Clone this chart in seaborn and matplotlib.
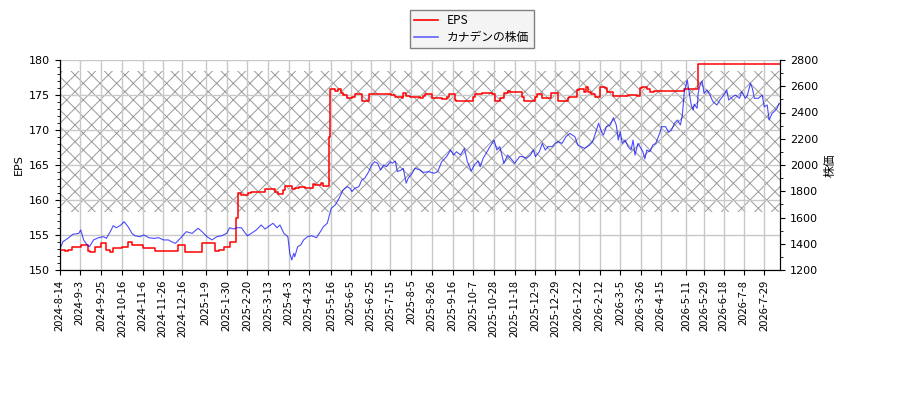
import pandas as pd
import numpy as np
import matplotlib
matplotlib.use('Agg')
import matplotlib.pyplot as plt
import seaborn as sns
from matplotlib.lines import Line2D
from matplotlib.ticker import MultipleLocator

start_date = pd.to_datetime('2024-08-14')
end_day = 730

# EPS steps: day offset from start_date, value from that day on
eps_day = [0, 5, 8, 12, 21, 28, 30, 35, 42, 47, 51, 54, 63, 69, 73, 84, 96, 120, 127, 144,
           157, 161, 166, 172, 178, 180, 184, 191, 194, 199, 208, 218, 221, 226, 228, 235,
           238, 242, 248, 257, 259, 265, 267, 273, 274, 279, 282, 285, 287, 291, 296, 299,
           306, 313, 336, 340, 347, 348, 351, 355, 365, 368, 370, 377, 380, 387, 392, 394,
           400, 402, 419, 421, 428, 438, 441, 446, 450, 454, 456, 468, 470, 482, 484, 489,
           492, 498, 505, 515, 516, 524, 526, 531, 533, 535, 538, 542, 547, 548, 553, 555,
           561, 576, 585, 588, 590, 595, 598, 602, 633, 647, 730]
eps_value = [152.86, 152.7, 152.86, 153.24, 153.57, 152.7, 152.52, 153.33, 153.81, 152.86,
             152.62, 153.1, 153.24, 153.95, 153.57, 153.19, 152.76, 153.57, 152.52, 153.81,
             152.7, 152.86, 153.33, 153.95, 157.4, 160.95, 160.71, 160.95, 161.1, 161.19,
             161.52, 161.19, 160.81, 161.43, 162.0, 161.57, 161.67, 161.81, 161.67, 162.24,
             162.14, 162.38, 162.0, 169.0, 175.81, 175.57, 175.81, 175.24, 175.0, 174.52,
             174.76, 175.1, 174.14, 175.1, 175.0, 174.76, 174.62, 175.33, 174.86, 174.76,
             174.52, 174.86, 175.1, 174.62, 174.52, 174.38, 174.76, 175.1, 174.29, 174.14,
             174.76, 175.14, 175.24, 175.1, 174.14, 174.52, 175.24, 175.57, 175.48, 174.76,
             174.14, 174.76, 175.1, 174.52, 174.62, 175.24, 174.19, 174.52, 174.76, 175.71,
             175.86, 175.48, 176.19, 175.48, 175.1, 174.76, 175.71, 176.1, 175.95, 175.48,
             174.86, 175.0, 174.9, 175.95, 176.1, 175.81, 175.48, 175.57, 175.86, 179.38,
             179.38]

# stock price: day offset from start_date
price_day = [0, 1, 3, 8, 13, 19, 21, 24, 27, 30, 34, 39, 44, 47, 51, 54, 57, 61, 65, 69, 73,
             76, 81, 85, 90, 95, 100, 105, 110, 113, 117, 122, 125, 128, 134, 140, 144, 149,
             154, 159, 164, 169, 172, 176, 179, 184,
             188, 190, 194, 199, 204, 208, 211, 216, 220, 223, 227, 231, 233, 235, 237, 238,
             241, 244, 247, 251, 255, 260, 264, 267, 271, 275, 279, 283, 287, 291, 294, 296,
             299, 303, 306, 309, 313, 316, 319, 322, 325, 328, 331, 335, 337, 340, 342, 346,
             348, 351, 353, 357,
             360, 365, 368, 374, 379, 383, 387, 392, 396, 399, 402, 406, 410, 413, 417, 420,
             424, 426, 429, 433, 436, 440, 443, 446, 450, 454, 457, 461, 466, 469, 473, 477,
             480, 482, 486, 489, 492, 495, 499, 502, 505, 509, 513, 517, 522, 525, 528, 532,
             537, 540, 544, 546, 549,
             551, 554, 558, 561, 564, 566, 568, 570, 573, 576, 579, 581, 583, 586, 588, 591,
             593, 595, 598, 601, 604, 608, 610, 614, 617, 620, 623, 626, 629, 631, 633, 636,
             637, 640, 642, 643, 646, 647, 649, 651, 653, 656, 659, 662, 666, 669, 673, 676,
             678, 682, 685, 689, 691, 695, 697, 700, 702, 704, 708, 712, 714, 717, 719, 722,
             724, 727, 729]
price_value = [1370, 1378, 1416, 1441, 1472, 1479, 1505, 1429, 1396, 1378, 1429, 1446, 1454,
               1441, 1492, 1538, 1522, 1538, 1568, 1530, 1479, 1461, 1454, 1467, 1446, 1441,
               1446, 1429, 1429, 1416, 1403, 1441, 1467, 1492, 1479, 1518, 1492, 1454, 1429,
               1454, 1461, 1479, 1522, 1512, 1522, 1522,
               1479, 1461, 1479, 1505, 1543, 1512, 1530, 1556, 1522, 1543, 1479, 1454, 1327,
               1276, 1327, 1301, 1378, 1390, 1429, 1454, 1461, 1446, 1492, 1530, 1556, 1670,
               1695, 1746, 1810, 1835, 1823, 1797, 1823, 1835, 1886, 1899, 1949, 2000, 2025,
               2013, 1962, 2000, 1987, 2025, 2013, 2030, 1949, 1962, 1975, 1861, 1899, 1937,
               1975, 1962, 1944, 1949, 1937, 1949, 2025, 2064, 2114, 2076, 2101, 2076, 2127,
               2025, 1954, 2000, 2030, 1987, 2051, 2101, 2140, 2190, 2114, 2140, 2013, 2076,
               2051, 2013, 2064, 2064, 2051, 2076, 2114, 2064, 2101, 2165, 2114, 2140, 2140,
               2165, 2178, 2165, 2216, 2241, 2216, 2152, 2140, 2127, 2152, 2178, 2267, 2318,
               2254,
               2228, 2292, 2305, 2360, 2305, 2190, 2254, 2165, 2190, 2140, 2114, 2190, 2076,
               2165, 2140, 2101, 2046, 2114, 2101, 2152, 2165, 2241, 2292, 2292, 2250, 2267,
               2318, 2343, 2305, 2381, 2559, 2648, 2597, 2457, 2419, 2463, 2432, 2546, 2610,
               2640, 2546, 2571, 2533, 2483, 2457, 2495, 2533, 2571, 2495, 2520, 2533, 2508,
               2559, 2508, 2533, 2622, 2584, 2508, 2508, 2533, 2444, 2457, 2343, 2394, 2406,
               2432, 2470]

tick_labels = ['2024-8-14', '2024-9-3', '2024-9-25', '2024-10-16', '2024-11-6', '2024-11-26',
               '2024-12-16', '2025-1-9', '2025-1-30', '2025-2-20', '2025-3-13', '2025-4-3',
               '2025-4-23', '2025-5-16', '2025-6-5', '2025-6-25', '2025-7-15', '2025-8-5',
               '2025-8-26', '2025-9-16', '2025-10-7', '2025-10-28', '2025-11-18', '2025-12-9',
               '2025-12-29', '2026-1-22', '2026-2-12', '2026-3-5', '2026-3-26', '2026-4-15',
               '2026-5-11', '2026-5-29', '2026-6-18', '2026-7-8', '2026-7-29']

plt.rcParams['font.family'] = ['DejaVu Sans', 'Noto Sans CJK JP']
plt.rcParams['hatch.linewidth'] = 0.7

eps_df = pd.DataFrame({'date': start_date + pd.to_timedelta(eps_day, unit='D'), 'EPS': eps_value})
price_df = pd.DataFrame({'date': start_date + pd.to_timedelta(price_day, unit='D'), 'price': price_value})

fig, ax = plt.subplots(figsize=(9, 4), dpi=100)
fig.subplots_adjust(left=60/900, right=780/900, top=1-60/400, bottom=1-270/400)
ax2 = ax.twinx()

# hatched band behind the lines
ax.axhspan(158.3, 178.5, facecolor='none', edgecolor='#9a9a9a', hatch='xx', linewidth=0, zorder=0)

sns.lineplot(data=eps_df, x='date', y='EPS', ax=ax, color='red', linewidth=1.1,
             drawstyle='steps-post', estimator=None, legend=False)
sns.lineplot(data=price_df, x='date', y='price', ax=ax2, color='blue', alpha=0.7,
             linewidth=0.8, estimator=None, legend=False)

ax.set_xlim(start_date, start_date + pd.Timedelta(days=end_day))
ax.set_ylim(150, 180)
ax2.set_ylim(1200, 2800)
ax.yaxis.set_major_locator(MultipleLocator(5))
ax.yaxis.set_minor_locator(MultipleLocator(1))
ax2.yaxis.set_major_locator(MultipleLocator(200))
ax2.yaxis.set_minor_locator(MultipleLocator(100))

tick_dates = pd.to_datetime(tick_labels)
ax.set_xticks(tick_dates, tick_labels, rotation=90, fontsize=8, fontfamily='Noto Sans CJK JP')
ax.tick_params(axis='y', labelsize=8)
ax2.tick_params(axis='y', labelsize=8)

ax.grid(True, color='#c8c8c8', linewidth=1)
ax.set_axisbelow(True)
ax.set_xlabel('')
ax.set_ylabel('EPS', fontsize=8)
ax2.set_ylabel('株価', fontsize=8.5)
ax.spines['top'].set_visible(False)
ax2.spines['top'].set_visible(False)

handles = [Line2D([], [], color='red', linewidth=1.2),
           Line2D([], [], color='blue', alpha=0.6, linewidth=1.2)]
fig.legend(handles, ['EPS', 'カナデンの株価'], loc='upper left',
           bbox_to_anchor=(410/900, 1-10/400), borderaxespad=0, borderpad=0.35,
           labelspacing=0.35, prop={'family': 'Noto Sans CJK JP', 'size': 8.5},
           fancybox=False, edgecolor='#808080', facecolor='#f4f4f4', framealpha=1)

plt.savefig('out.png', dpi=100)
